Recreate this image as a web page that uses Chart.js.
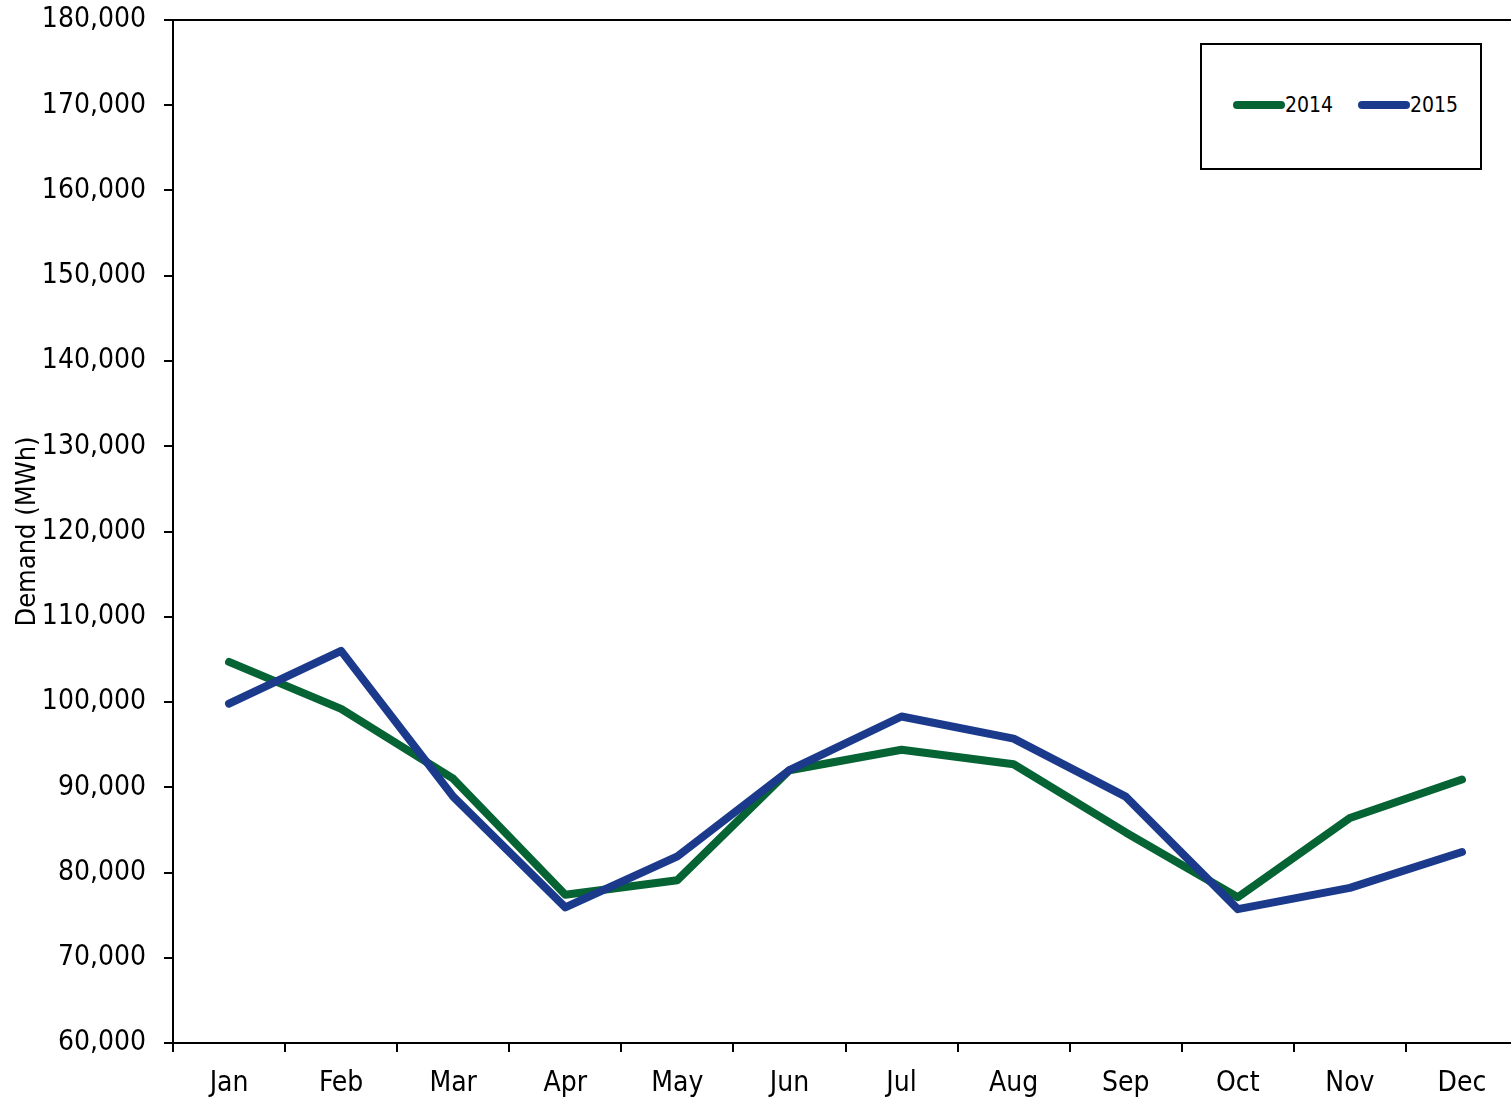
<!DOCTYPE html>
<html>
<head>
<meta charset="utf-8">
<script src="https://cdn.jsdelivr.net/npm/chart.js@4/dist/chart.umd.min.js"></script>
<style>
    html, body { margin: 0; padding: 0; background: #fff; overflow: hidden; }
    .wrap { position: relative; width: 1511px; height: 1100px; overflow: hidden; }
    .legendbox {
        position: absolute; left: 1200px; top: 43px; width: 278px; height: 123px;
        border: 2px solid #000; background: #fff;
        font-family: "Liberation Sans Narrow", "DejaVu Sans Condensed", sans-serif; font-size: 21px;
    }
    .legendbox span.item { position: absolute; top: 48px; display: flex; align-items: center; }
    .legendbox span.line { display: inline-block; width: 52px; height: 8px; border-radius: 4px; }
</style>
</head>
<body>
<div class="wrap">
    <canvas id="demand" width="1518" height="1100"></canvas>
    <div class="legendbox">
        <span class="item" style="left:31px"><span class="line" style="background:#066333"></span>2014</span>
        <span class="item" style="left:156px"><span class="line" style="background:#1b3a8c"></span>2015</span>
    </div>
</div>
<script>
const months = ['Jan', 'Feb', 'Mar', 'Apr', 'May', 'Jun', 'Jul', 'Aug', 'Sep', 'Oct', 'Nov', 'Dec'];
const demand2014 = [104700, 99200, 91000, 77400, 79100, 92000, 94400, 92700, 84700, 77100, 86400, 90900];
const demand2015 = [99800, 106000, 88900, 75900, 81900, 92000, 98300, 95700, 88900, 75700, 78200, 82400];
const yMin = 60000, yMax = 180000, yStep = 10000;

const fontFamily = '"Liberation Sans Narrow", "DejaVu Sans Condensed", sans-serif';

// top frame line of the plot
const topLine = {
    id: 'topLine',
    afterDraw(chart) {
        const a = chart.chartArea;
        const ctx = chart.ctx;
        ctx.save();
        ctx.strokeStyle = '#000';
        ctx.lineWidth = 2;
        ctx.beginPath();
        ctx.moveTo(a.left - 9, a.top);
        ctx.lineTo(a.right, a.top);
        ctx.stroke();
        ctx.restore();
    }
};

new Chart(document.getElementById('demand').getContext('2d'), {
    type: 'line',
    data: {
        labels: months,
        datasets: [
            { label: '2014', data: demand2014, borderColor: '#066333', backgroundColor: '#066333', borderWidth: 8, pointRadius: 0, tension: 0, borderCapStyle: 'round', borderJoinStyle: 'round', order: 2 },
            { label: '2015', data: demand2015, borderColor: '#1b3a8c', backgroundColor: '#1b3a8c', borderWidth: 8, pointRadius: 0, tension: 0, borderCapStyle: 'round', borderJoinStyle: 'round', order: 1 }
        ]
    },
    options: {
        responsive: false,
        animation: false,
        layout: { autoPadding: false, padding: { top: 20, right: 0, bottom: 0, left: 0 } },
        plugins: { legend: { display: false }, tooltip: { enabled: false } },
        scales: {
            x: {
                offset: true,
                grid: { offset: true, drawOnChartArea: false, drawTicks: true, tickLength: 9, color: '#000', lineWidth: 2 },
                border: { display: true, color: '#000', width: 2 },
                ticks: { color: '#000', padding: 15, maxRotation: 0, font: { family: fontFamily, size: 28 } },
                afterFit(scale) {
                    scale.height = 57;
                    scale.paddingLeft = 0;
                    scale.paddingRight = 0;
                }
            },
            y: {
                min: yMin,
                max: yMax,
                grid: { drawOnChartArea: false, drawTicks: true, tickLength: 9, color: '#000', lineWidth: 2 },
                border: { display: true, color: '#000', width: 2 },
                ticks: {
                    stepSize: yStep, color: '#000', padding: 18,
                    font: { family: fontFamily, size: 28 },
                    callback: (v) => v.toLocaleString('en-US')
                },
                title: { display: true, text: 'Demand (MWh)', color: '#000', padding: { top: 12, bottom: 0 }, font: { family: fontFamily, size: 27 } },
                afterFit(scale) {
                    scale.width = 173;
                    scale.paddingTop = 0;
                    scale.paddingBottom = 0;
                }
            }
        }
    },
    plugins: [topLine]
});
</script>
</body>
</html>
